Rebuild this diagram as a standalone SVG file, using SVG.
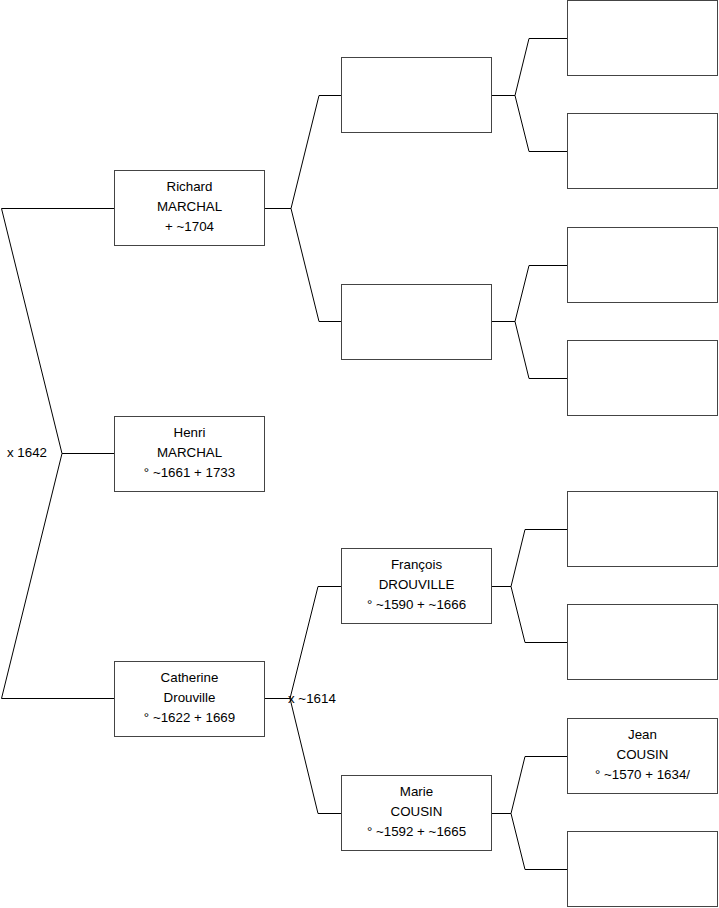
<svg xmlns="http://www.w3.org/2000/svg" width="719" height="908" viewBox="0 0 719 908">
<style>
.b{fill:#fff;stroke:#444;stroke-width:1}
.t{font-family:"Liberation Sans",Arial,sans-serif;font-size:13.33px;fill:#000}
.c{text-anchor:middle}
.l{fill:none;stroke:#000;stroke-width:1}
</style>
<rect width="719" height="908" fill="#fff"/>
<g id="connectors" class="l">
<polyline points="114,208.5 1.5,208.5 62,453.5 1.5,698.5 114,698.5"/>
<line x1="62" y1="453.5" x2="114" y2="453.5"/>
<polyline points="341,95.5 319,95.5 291,208.5 319,321.5 341,321.5"/>
<line x1="265" y1="208.5" x2="291" y2="208.5"/>
<polyline points="341,586.5 318,586.5 290,698.5 318,813.5 341,813.5"/>
<line x1="265" y1="698.5" x2="290" y2="698.5"/>
<polyline points="567,38.5 529,38.5 515,95.5 529,151.5 567,151.5"/>
<line x1="492" y1="95.5" x2="515" y2="95.5"/>
<polyline points="567,265.5 529,265.5 515,321.5 529,378.5 567,378.5"/>
<line x1="492" y1="321.5" x2="515" y2="321.5"/>
<polyline points="567,529.5 525,529.5 511,586.5 525,642.5 567,642.5"/>
<line x1="492" y1="586.5" x2="511" y2="586.5"/>
<polyline points="567,756.5 525,756.5 511,813.5 525,869.5 567,869.5"/>
<line x1="492" y1="813.5" x2="511" y2="813.5"/>
</g>
<text class="t" x="7" y="457">x 1642</text>
<text class="t" x="288" y="703">x ~1614</text>
<g id="richard"><rect class="b" x="114.5" y="170.5" width="150" height="75"/>
<text class="t c" x="189.5" y="191">Richard</text><text class="t c" x="189.5" y="211">MARCHAL</text><text class="t c" x="189.5" y="231">+ ~1704</text></g>
<g id="henri"><rect class="b" x="114.5" y="416.5" width="150" height="75"/>
<text class="t c" x="189.5" y="437">Henri</text><text class="t c" x="189.5" y="457">MARCHAL</text><text class="t c" x="189.5" y="477">° ~1661 + 1733</text></g>
<g id="catherine"><rect class="b" x="114.5" y="661.5" width="150" height="75"/>
<text class="t c" x="189.5" y="682">Catherine</text><text class="t c" x="189.5" y="702">Drouville</text><text class="t c" x="189.5" y="722">° ~1622 + 1669</text></g>
<g id="g2a"><rect class="b" x="341.5" y="57.5" width="150" height="75"/></g>
<g id="g2b"><rect class="b" x="341.5" y="284.5" width="150" height="75"/></g>
<g id="francois"><rect class="b" x="341.5" y="548.5" width="150" height="75"/>
<text class="t c" x="416.5" y="569">François</text><text class="t c" x="416.5" y="589">DROUVILLE</text><text class="t c" x="416.5" y="609">° ~1590 + ~1666</text></g>
<g id="marie"><rect class="b" x="341.5" y="775.5" width="150" height="75"/>
<text class="t c" x="416.5" y="796">Marie</text><text class="t c" x="416.5" y="816">COUSIN</text><text class="t c" x="416.5" y="836">° ~1592 + ~1665</text></g>
<g id="g3a"><rect class="b" x="567.5" y="0.5" width="150" height="75"/></g>
<g id="g3b"><rect class="b" x="567.5" y="113.5" width="150" height="75"/></g>
<g id="g3c"><rect class="b" x="567.5" y="227.5" width="150" height="75"/></g>
<g id="g3d"><rect class="b" x="567.5" y="340.5" width="150" height="75"/></g>
<g id="g3e"><rect class="b" x="567.5" y="491.5" width="150" height="75"/></g>
<g id="g3f"><rect class="b" x="567.5" y="604.5" width="150" height="75"/></g>
<g id="jean"><rect class="b" x="567.5" y="718.5" width="150" height="75"/>
<text class="t c" x="642.5" y="739">Jean</text><text class="t c" x="642.5" y="759">COUSIN</text><text class="t c" x="642.5" y="779">° ~1570 + 1634/</text></g>
<g id="g3h"><rect class="b" x="567.5" y="831.5" width="150" height="75"/></g>
</svg>
